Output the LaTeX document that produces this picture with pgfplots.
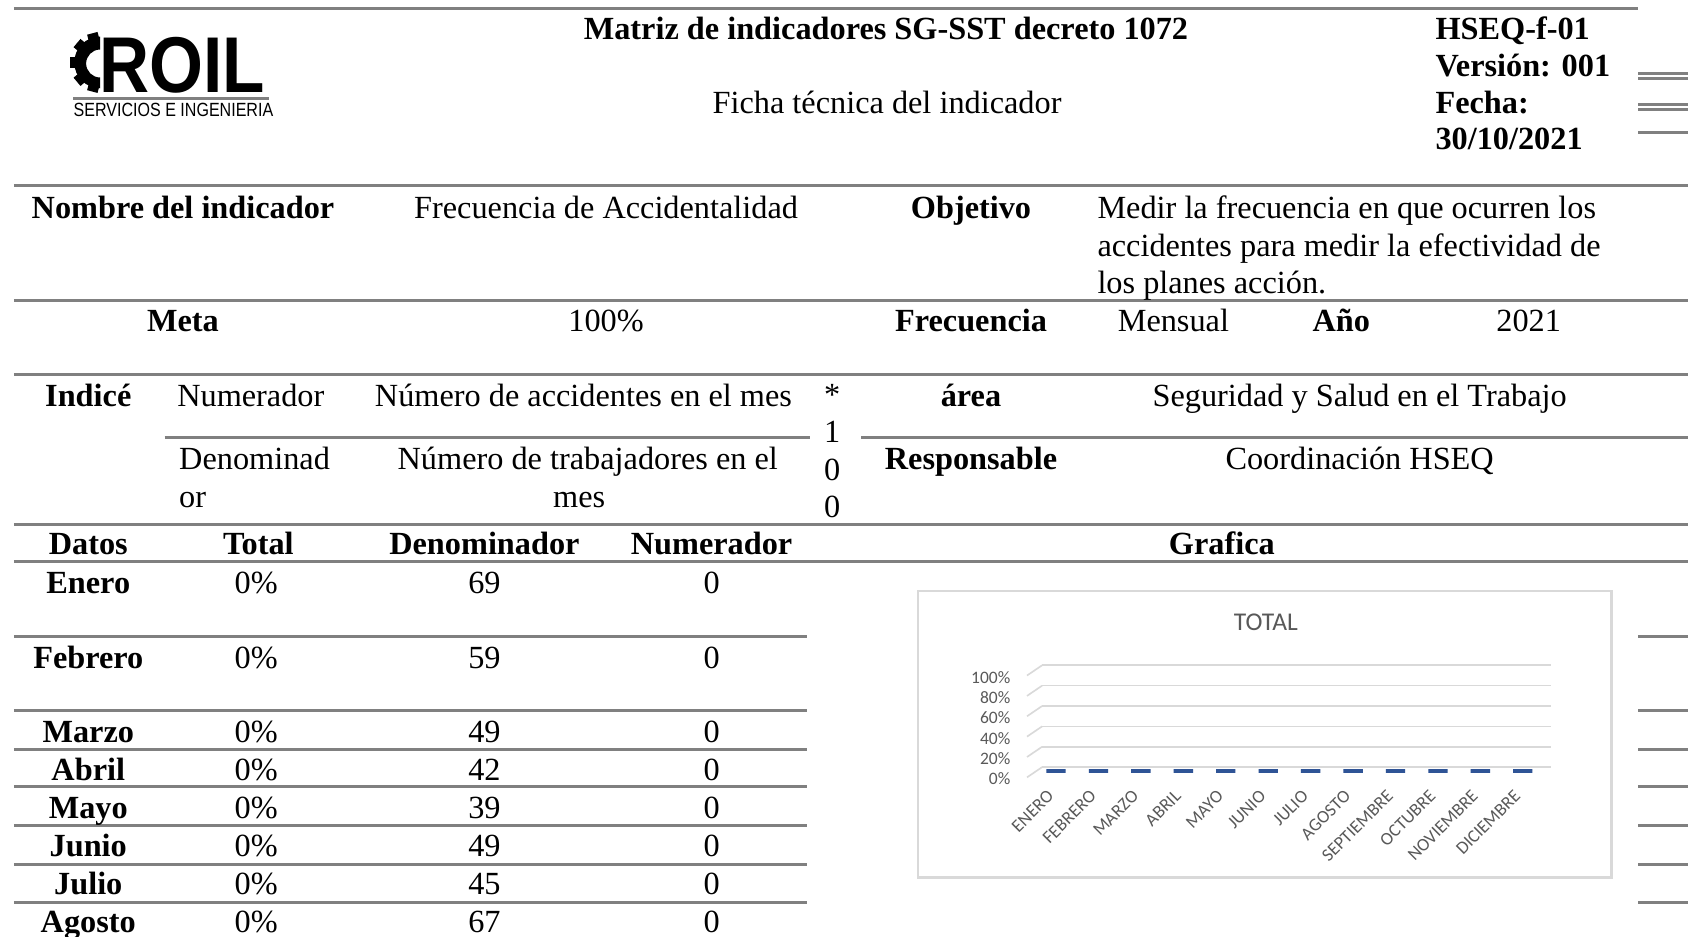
\documentclass[border=0pt]{standalone}
\usepackage{pgfplots}
\pgfplotsset{compat=1.18}
\usepackage{fontspec}
\setmainfont{Liberation Serif}
\setsansfont{Liberation Sans}
\newfontfamily\carlito{Carlito}
\definecolor{rulegray}{HTML}{808080}
\definecolor{gridgray}{HTML}{D9D9D9}
\definecolor{labelgray}{HTML}{595959}
\definecolor{barblue}{HTML}{2F5496}
\begin{document}
\begin{tikzpicture}
\useasboundingbox (0,0) rectangle (627.2pt,-348pt);
\clip (0,0) rectangle (627.2pt,-348pt);
\fill[white] (0,0) rectangle (627.2pt,-348pt);
\begin{scope}[x=0.4pt,y=-0.4pt, every node/.style={inner sep=0pt, font=\fontsize{12}{14}\selectfont}]
% ---------- rules ----------
\begin{scope}[draw=rulegray, line width=1.1pt]
\draw (13,8) -- (1522,8);
\draw (1522,68) -- (1568,68); \draw (1522,72.5) -- (1568,72.5);
\draw (1522,97) -- (1568,97); \draw (1522,101.5) -- (1568,101.5);
\draw (1522,123) -- (1568,123);
\draw (13,172) -- (1568,172);
\draw (13,279) -- (1568,279);
\draw (13,348) -- (1568,348);
\draw (153,406) -- (752,406); \draw (800,406) -- (1568,406);
\draw (13,487) -- (1568,487);
\draw (13,522) -- (1568,522);
\foreach \yy in {591,660,696,731,767,803,838}{
  \draw (13,\yy) -- (750,\yy); \draw (1522,\yy) -- (1568,\yy);}
\end{scope}
% ---------- logo ----------
\fill (93,34) arc[start angle=270, end angle=90, radius=24] -- (93,72) arc[start angle=90, end angle=270, radius=13] -- cycle;
\foreach \a in {105,140,180,220,255}{
  \fill[rotate around={\a:(93,58)}] (114,53) rectangle (121,63);}
\node[anchor=base west] at (92,86) {\scalebox{0.92}[1.05]{\fontsize{28}{28}\selectfont\sffamily\bfseries ROIL}};
\draw[rulegray, line width=1pt] (68,91.5) -- (250,91.5);
\node[anchor=base west] at (68,108.5) {\scalebox{0.84}[1]{\fontsize{7.1}{8}\selectfont\sffamily SERVICIOS E INGENIERIA}};
% ---------- header ----------
\node[anchor=base] at (823,37) {\bfseries Matriz de indicadores SG-SST decreto 1072};
\node[anchor=base] at (824,105) {Ficha técnica del indicador};
\node[anchor=base west] at (1333,37) {\bfseries HSEQ-f-01};
\node[anchor=base west] at (1333,71) {\bfseries Versión: 001};
\node[anchor=base west] at (1333,105) {\bfseries Fecha:};
\node[anchor=base west] at (1333,139) {\bfseries 30/10/2021};
% ---------- row 1 ----------
\node[anchor=base] at (170,203) {\bfseries Nombre del indicador};
\node[anchor=base] at (563,203) {Frecuencia de Accidentalidad};
\node[anchor=base] at (902,203) {\bfseries Objetivo};
\node[anchor=base west] at (1019,203) {Medir la frecuencia en que ocurren los};
\node[anchor=base west] at (1019,238) {accidentes para medir la efectividad de};
\node[anchor=base west] at (1019,273) {los planes acción.};
% ---------- row 2 ----------
\node[anchor=base] at (170,308) {\bfseries Meta};
\node[anchor=base] at (563,308) {100\%};
\node[anchor=base] at (902,308) {\bfseries Frecuencia};
\node[anchor=base] at (1090,308) {Mensual};
\node[anchor=base] at (1246,308) {\bfseries Año};
\node[anchor=base] at (1420,308) {2021};
% ---------- row 3/4 ----------
\node[anchor=base] at (82,378) {\bfseries Indicé};
\node[anchor=base] at (233,378) {Numerador};
\node[anchor=base] at (542,378) {Número de accidentes en el mes};
\node[anchor=base] at (773,377) {*};
\node[anchor=base] at (773,411.5) {1};
\node[anchor=base] at (773,446) {0};
\node[anchor=base] at (773,480.5) {0};
\node[anchor=base] at (902,378) {\bfseries área};
\node[anchor=base] at (1263,378) {Seguridad y Salud en el Trabajo};
\node[anchor=base west] at (166,436) {Denominad};
\node[anchor=base west] at (166,471) {or};
\node[anchor=base] at (546,436) {Número de trabajadores en el};
\node[anchor=base] at (538,471) {mes};
\node[anchor=base] at (902,436) {\bfseries Responsable};
\node[anchor=base] at (1263,436) {Coordinación HSEQ};
% ---------- row 5 ----------
\node[anchor=base] at (82,515) {\bfseries Datos};
\node[anchor=base] at (240,515) {\bfseries Total};
\node[anchor=base] at (450,515) {\bfseries Denominador};
\node[anchor=base] at (661,515) {\bfseries Numerador};
\node[anchor=base] at (1135,515) {\bfseries Grafica};
% ---------- data rows ----------
\foreach \m/\d/\yy in {Enero/69/551,Febrero/59/621,Marzo/49/690,Abril/42/725,Mayo/39/760,Junio/49/796,Julio/45/831,Agosto/67/866}{
  \node[anchor=base] at (82,\yy) {\bfseries \m};
  \node[anchor=base] at (238,\yy) {0\%};
  \node[anchor=base] at (450,\yy) {\d};
  \node[anchor=base] at (661,\yy) {0};}
% ---------- chart frame ----------
\draw[gridgray, line width=0.9pt] (853,549) rectangle (1497,815);
\node[text=labelgray] at (1176,578) {\carlito\fontsize{9.5}{10}\selectfont TOTAL};
\end{scope}
\begin{axis}[
  at={(387.2pt,-285.04pt)}, anchor=south west,
  width=189.2pt, height=37.84pt, scale only axis,
  xmin=-0.5, xmax=11.5, ymin=0, ymax=1, clip=false,
  axis line style={draw=none},
  major tick length=0pt,
  ytick={0,0.2,0.4,0.6,0.8,1},
  yticklabels={0\%,20\%,40\%,60\%,80\%,100\%},
  ymajorgrids, grid style={gridgray, line width=0.6pt},
  xtick={0,...,11},
  xticklabels={ENERO,FEBRERO,MARZO,ABRIL,MAYO,JUNIO,JULIO,AGOSTO,SEPTIEMBRE,OCTUBRE,NOVIEMBRE,DICIEMBRE},
  yticklabel style={font=\carlito\fontsize{6.5}{7}\selectfont, text=labelgray, anchor=east, inner sep=0pt, xshift=-11.6pt, yshift=-4.4pt},
  xticklabel style={font=\carlito\fontsize{6.7}{7}\selectfont, text=labelgray, inner sep=0pt, xshift=-4.6pt, yshift=-9.6pt, rotate=45, anchor=east},
]
\pgfplotsinvokeforeach{0,0.2,0.4,0.6,0.8,1}{
  \draw[gridgray, line width=0.6pt] (axis cs:-0.5,#1) -- ++(-5.6pt,-3.8pt);}
\addplot[ybar, bar width=7.2pt, fill=barblue, draw=barblue, line width=1.6pt, xshift=-2.7pt, yshift=-1.4pt]
  coordinates {(0,0) (1,0) (2,0) (3,0) (4,0) (5,0) (6,0) (7,0) (8,0) (9,0) (10,0) (11,0)};
\end{axis}
\end{tikzpicture}
\end{document}
